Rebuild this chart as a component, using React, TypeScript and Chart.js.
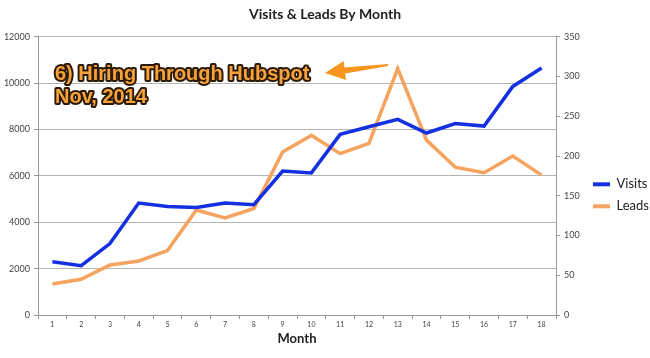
import React, { useEffect, useRef } from "react";
import { Chart, registerables } from "chart.js";

Chart.register(...registerables);

const months: string[] = ["1","2","3","4","5","6","7","8","9","10","11","12","13","14","15","16","17","18"];
const visits: number[] = [2300, 2130, 3080, 4830, 4680, 4640, 4830, 4760, 6210, 6130, 7790, 8120, 8440, 7850, 8260, 8150, 9860, 10650];
const leads: number[] = [39, 45, 63, 68, 81, 132, 122, 134, 205, 226, 203, 216, 310, 220, 186, 179, 200, 176];
const leftTicks = { min: 0, max: 12000, step: 2000 };
const rightTicks = { min: 0, max: 350, step: 50 };
const titleText = "Visits & Leads By Month";
const xTitle = "Month";
const annotationLines: string[] = ["6) Hiring Through Hubspot", "Nov, 2014"];

const FONT = "Lato, 'Open Sans', sans-serif";

const annotationPlugin = {
  id: "hubspotNote",
  afterDraw(chart: any) {
    const ctx = chart.ctx as CanvasRenderingContext2D;
    ctx.save();
    ctx.font = "bold 20px 'Liberation Sans', Arial, sans-serif";
    ctx.textBaseline = "middle";
    ctx.textAlign = "left";
    ctx.lineJoin = "round";
    const ys = [74, 97];
    annotationLines.forEach((t, i) => {
      ctx.lineWidth = 4;
      ctx.strokeStyle = "#2b1a06";
      ctx.strokeText(t, 55, ys[i]);
      ctx.fillStyle = "#f7a23a";
      ctx.fillText(t, 55, ys[i]);
    });
    const tip = { x: 325, y: 73 };
    const tail = { x: 388, y: 65 };
    const dx = tail.x - tip.x, dy = tail.y - tip.y;
    const len = Math.hypot(dx, dy);
    const ux = dx / len, uy = dy / len;
    const px = -uy, py = ux;
    const headLen = 20, headHalf = 9.5;
    const bx = tip.x + ux * headLen, by = tip.y + uy * headLen;
    ctx.fillStyle = "#f7961e";
    ctx.beginPath();
    ctx.moveTo(tip.x, tip.y);
    ctx.lineTo(bx + px * headHalf, by + py * headHalf);
    ctx.lineTo(bx + px * 3, by + py * 3);
    ctx.lineTo(tail.x + px * 1, tail.y + py * 1);
    ctx.lineTo(tail.x - px * 1, tail.y - py * 1);
    ctx.lineTo(bx - px * 3, by - py * 3);
    ctx.lineTo(bx - px * headHalf, by - py * headHalf);
    ctx.closePath();
    ctx.fill();
    ctx.restore();
  },
};

export default function App() {
  const ref = useRef<HTMLCanvasElement | null>(null);
  useEffect(() => {
    document.body.style.margin = "0";
    if (!ref.current) return;
    const chart = new Chart(ref.current, {
      type: "line",
      data: {
        labels: months,
        datasets: [
          {
            label: "Visits",
            data: visits,
            borderColor: "#1530e2",
            backgroundColor: "#1530e2",
            borderWidth: 3.5,
            pointRadius: 0,
            tension: 0,
            yAxisID: "y",
          },
          {
            label: "Leads",
            data: leads,
            borderColor: "#f5a35e",
            backgroundColor: "#f5a35e",
            borderWidth: 3.5,
            pointRadius: 0,
            tension: 0,
            yAxisID: "y1",
          },
        ],
      },
      options: {
        animation: false,
        responsive: false,
        maintainAspectRatio: false,
        layout: { padding: { left: 0, right: 0, top: 0, bottom: 11 } },
        plugins: {
          title: {
            display: true,
            text: titleText,
            color: "#222",
            font: { family: FONT, size: 14, weight: "bold" },
            padding: { top: 6, bottom: 14 },
          },
          legend: {
            position: "right",
            align: "center",
            maxWidth: 66,
            title: {
              display: true,
              text: " ",
              font: { family: FONT, size: 13 },
              padding: { top: 14, bottom: 14 },
            },
            labels: {
              color: "#222",
              font: { family: FONT, size: 13 },
              boxWidth: 17,
              boxHeight: 4,
              padding: 9,
              generateLabels: (c: any) =>
                c.data.datasets.map((d: any, i: number) => ({
                  text: d.label,
                  fillStyle: d.borderColor,
                  strokeStyle: d.borderColor,
                  lineWidth: 0,
                  hidden: false,
                  datasetIndex: i,
                  fontColor: "#222",
                })),
            },
          },
          tooltip: { enabled: false },
        },
        scales: {
          x: {
            offset: true,
            grid: { display: true, drawOnChartArea: false, drawTicks: true, tickLength: 4, color: "#999", offset: true },
            border: { color: "#999" },
            ticks: { color: "#444", font: { family: FONT, size: 7 }, padding: 2, maxRotation: 0, autoSkip: false },
            title: { display: true, text: xTitle, color: "#222", font: { family: FONT, size: 13, weight: "bold" }, padding: { top: 0, bottom: 0 } },
          },
          y: {
            position: "left",
            min: leftTicks.min,
            max: leftTicks.max,
            ticks: { stepSize: leftTicks.step, color: "#444", font: { family: FONT, size: 9 }, padding: 4, callback: (v: any) => String(v) },
            grid: { color: "#b4b4b4", tickLength: 4, tickColor: "#999" },
            border: { color: "#999" },
            afterFit: (s: any) => { s.width = 38; },
          },
          y1: {
            position: "right",
            min: rightTicks.min,
            max: rightTicks.max,
            ticks: { stepSize: rightTicks.step, color: "#444", font: { family: FONT, size: 9 }, padding: 4, callback: (v: any) => String(v) },
            grid: { drawOnChartArea: false, tickLength: 4, color: "#999" },
            border: { color: "#999" },
            afterFit: (s: any) => { s.width = 28; },
          },
        },
      },
      plugins: [annotationPlugin],
    });
    return () => chart.destroy();
  }, []);
  return (
    <div style={{ width: 650, height: 358, background: "#fff" }}>
      <canvas ref={ref} width={650} height={358} style={{ width: 650, height: 358 }} />
    </div>
  );
}
